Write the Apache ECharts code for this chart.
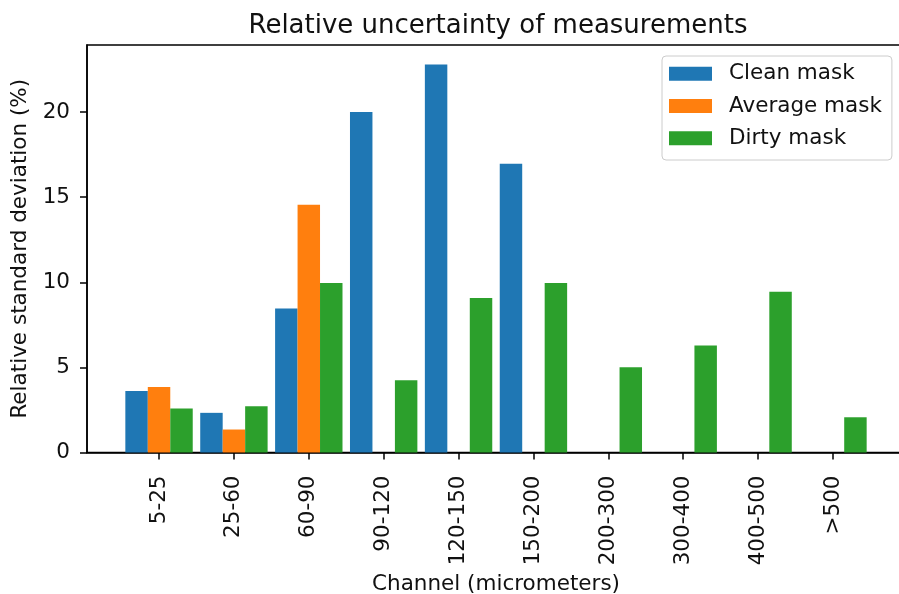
<!DOCTYPE html>
<html>
<head>
<meta charset="utf-8">
<script src="https://cdn.jsdelivr.net/npm/echarts@6/dist/echarts.min.js"></script>
<style>
  html, body { margin: 0; padding: 0; background: #fff; }
  #chart { width: 899px; height: 594px; }
</style>
</head>
<body>
<div id="chart"></div>
<script>
// Channel size classes (micrometers)
const categories = ['5-25', '25-60', '60-90', '90-120', '120-150', '150-200', '200-300', '300-400', '400-500', '>500'];

// Relative standard deviation (%) per mask condition
const cleanMask   = [3.62, 2.33, 8.46, 20.0, 22.8, 16.97, 0, 0, 0, 0];
const averageMask = [3.85, 1.35, 14.56, 0, 0, 0, 0, 0, 0, 0];
const dirtyMask   = [2.58, 2.72, 9.96, 4.25, 9.08, 9.96, 5.01, 6.28, 9.45, 2.07];

const yTicks = [0, 5, 10, 15, 20];

const seriesNames = ['Clean mask', 'Average mask', 'Dirty mask'];
const seriesColors = ['#1f77b4', '#ff7f0e', '#2ca02c'];
const seriesValues = [cleanMask, averageMask, dirtyMask];

const FONT = 'DejaVu Sans';
const TEXT = '#111';
const FS = 21.5;

const chart = echarts.init(document.getElementById('chart'), null, { renderer: 'canvas' });

const catIndex = categories.map((_, i) => i);

const option = {
  animation: false,
  backgroundColor: '#fff',
  textStyle: { fontFamily: FONT },
  title: {
    text: 'Relative uncertainty of measurements',
    left: 493,
    top: 8,
    textAlign: 'center',
    textStyle: { fontFamily: FONT, fontSize: 26, fontWeight: 'normal', color: TEXT }
  },
  legend: {
    orient: 'vertical',
    left: 662,
    top: 56,
    padding: [6.7, 10, 10.7, 7],
    itemWidth: 43,
    itemHeight: 14,
    itemGap: 10.3,
    backgroundColor: '#fff',
    borderColor: '#cccccc',
    borderWidth: 1,
    borderRadius: 4,
    icon: 'rect',
    textStyle: { fontFamily: FONT, fontSize: FS, color: TEXT, padding: [0, 0, 0, 12] },
    data: seriesNames
  },
  grid: {
    left: 87,
    top: 45,
    right: -6,
    height: 407.5,
    show: true,
    borderColor: '#000',
    borderWidth: 1.5,
    outerBoundsMode: 'none',
    containLabel: false
  },
  xAxis: {
    type: 'value',
    min: -0.962,
    max: 9.962,
    name: 'Channel (micrometers)',
    nameLocation: 'middle',
    nameGap: 109,
    nameTextStyle: { fontFamily: FONT, fontSize: FS, color: TEXT },
    splitLine: { show: false },
    axisLine: { show: true, onZero: false, lineStyle: { color: '#000', width: 1.5 } },
    axisTick: { show: true, length: 7, lineStyle: { color: '#000', width: 1.5 }, customValues: catIndex },
    axisLabel: {
      customValues: catIndex,
      rotate: 90,
      margin: 23,
      fontFamily: FONT,
      fontSize: FS,
      color: TEXT,
      formatter: (v) => categories[Math.round(v)]
    }
  },
  yAxis: {
    type: 'value',
    min: 0,
    max: 23.94,
    name: 'Relative standard deviation (%)',
    nameLocation: 'middle',
    nameGap: 54,
    nameTextStyle: { fontFamily: FONT, fontSize: FS, color: TEXT },
    splitLine: { show: false },
    axisLine: { show: true, onZero: false, lineStyle: { color: '#000', width: 1.5 } },
    axisTick: { show: true, length: 7, lineStyle: { color: '#000', width: 1.5 }, customValues: yTicks },
    axisLabel: { customValues: yTicks, margin: 17, fontFamily: FONT, fontSize: FS, color: TEXT }
  },
  series: seriesNames.map((name, s) => ({
    name: name,
    type: 'bar',
    barWidth: '30%',
    barGap: '0%',
    itemStyle: { color: seriesColors[s] },
    emphasis: { disabled: true },
    data: seriesValues[s].map((v, i) => [i, v])
  }))
};

chart.setOption(option);
</script>
</body>
</html>
